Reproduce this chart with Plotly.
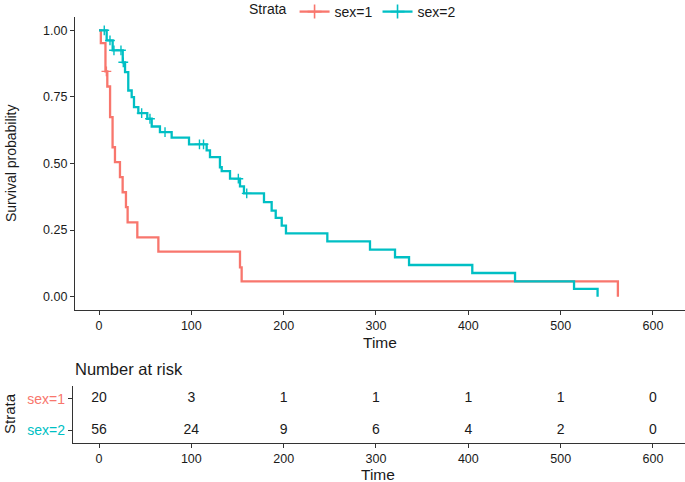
import plotly.graph_objects as go

# ---------------- data ----------------
strata = ["sex=1", "sex=2"]
colors = ["#F8766D", "#00BFC4"]

time_1 = [0, 2, 7, 9, 12, 14.7, 17.3, 22.7, 25.6, 29.2, 31, 41.5, 64.3, 152.7, 154.5, 562]
surv_1 = [1.0, 0.952, 0.846, 0.789, 0.674, 0.561, 0.505, 0.449, 0.392, 0.336, 0.279, 0.223, 0.169, 0.110, 0.0575, 0.0]
cens_t_1 = [8]
cens_s_1 = [0.846]

time_2 = [0, 8.3, 14.8, 25.7, 28.2, 31.7, 35.4, 37.9, 42.6, 52.3, 57.1, 66, 78.7, 97.5, 116.6, 120.2,
          131, 132.9, 141.9, 152.7, 157, 178.7, 187, 191.4, 197.9, 202.5, 247.3, 293.5, 320.6, 335.8,
          404.3, 450.6, 514.5, 540]
surv_2 = [1.0, 0.962, 0.925, 0.88, 0.843, 0.774, 0.749, 0.712, 0.689, 0.668, 0.639, 0.618, 0.597, 0.572,
          0.549, 0.524, 0.486, 0.471, 0.443, 0.414, 0.388, 0.355, 0.323, 0.296, 0.267, 0.238, 0.208,
          0.177, 0.148, 0.119, 0.089, 0.0575, 0.029, 0.0]
cens_t_2 = [5.7, 11.9, 16.2, 23.8, 26.3, 46.2, 55.2, 71.5, 108.8, 113.2, 150.9, 160]
cens_s_2 = [1.0, 0.962, 0.925, 0.925, 0.88, 0.689, 0.668, 0.618, 0.572, 0.572, 0.443, 0.388]

risk_times = [0, 100, 200, 300, 400, 500, 600]
risk_1 = [20, 3, 1, 1, 1, 1, 0]
risk_2 = [56, 24, 9, 6, 4, 2, 0]

y_ticks = [0.0, 0.25, 0.5, 0.75, 1.0]
y_ticklabels = ["0.00", "0.25", "0.50", "0.75", "1.00"]
x_ticks = [0, 100, 200, 300, 400, 500, 600]

# ---------------- figure ----------------
W, H = 685, 482
FONT = "Liberation Sans, Arial, Helvetica, sans-serif"
TXT = "#1a1a1a"
AX = "#333333"

def px_x(p):
    return p / W

def px_y(p):
    return 1 - p / H

fig = go.Figure()

curves = [(time_1, surv_1, cens_t_1, cens_s_1), (time_2, surv_2, cens_t_2, cens_s_2)]
for i, (t, s, ct, cs) in enumerate(curves):
    fig.add_trace(go.Scatter(x=t, y=s, mode="lines", line=dict(color=colors[i], width=2.3, shape="hv"),
                             showlegend=False, hoverinfo="skip", xaxis="x", yaxis="y"))
    fig.add_trace(go.Scatter(x=ct, y=cs, mode="markers",
                             marker=dict(symbol="cross-thin", size=7, line=dict(color=colors[i], width=1.4)),
                             showlegend=False, hoverinfo="skip", xaxis="x", yaxis="y"))
    # legend entry
    fig.add_trace(go.Scatter(x=[None], y=[None], mode="lines+markers", name=strata[i],
                             line=dict(color=colors[i], width=2.3),
                             marker=dict(symbol="cross-thin", size=10, line=dict(color=colors[i], width=1.6)),
                             xaxis="x", yaxis="y"))

# risk table
row_pos = [2, 1]
for vals, yp in zip([risk_1, risk_2], row_pos):
    fig.add_trace(go.Scatter(x=risk_times, y=[yp] * len(risk_times), mode="text",
                             text=[str(v) for v in vals],
                             textfont=dict(family=FONT, size=14, color=TXT),
                             showlegend=False, hoverinfo="skip", xaxis="x2", yaxis="y2"))

x_range = [(75 - 99) / 0.9233, (685 - 99) / 0.9233]
x2_range = [(73 - 99) / 0.9233, (685 - 99) / 0.9233]

axis_common = dict(showgrid=False, zeroline=False, showline=True, linecolor=AX, linewidth=1.3,
                   ticks="outside", ticklen=4, tickcolor=AX, tickwidth=1.1,
                   tickfont=dict(family=FONT, size=12.5, color=TXT))

def ann(text, x, y, size, angle=0, xanchor="center"):
    return dict(text=text, x=px_x(x), y=px_y(y), xref="paper", yref="paper", textangle=angle,
                xanchor=xanchor, yanchor="middle", showarrow=False,
                font=dict(family=FONT, size=size, color=TXT))

fig.update_layout(
    width=W, height=H,
    margin=dict(l=0, r=0, t=0, b=0, autoexpand=False),
    paper_bgcolor="white", plot_bgcolor="white",
    font=dict(family=FONT, color=TXT),
    xaxis=dict(domain=[px_x(75), 1.0], range=x_range, tickvals=x_ticks, anchor="y", **axis_common),
    yaxis=dict(domain=[px_y(310), px_y(17)], range=[-0.05, 1.05], tickvals=y_ticks,
               ticktext=y_ticklabels, anchor="x", **axis_common),
    xaxis2=dict(domain=[px_x(73), 1.0], range=x2_range, tickvals=x_ticks, anchor="y2", **axis_common),
    yaxis2=dict(domain=[px_y(443), px_y(386)], range=[0.6, 2.4], tickvals=row_pos,
                ticktext=['<span style="color:%s">%s</span>' % (colors[0], strata[0]),
                          '<span style="color:%s">%s</span>' % (colors[1], strata[1])],
                anchor="x2", **dict(axis_common, tickfont=dict(family=FONT, size=14, color=TXT))),
    legend=dict(orientation="h", x=px_x(247), y=px_y(-4), xanchor="left", yanchor="top",
                title=dict(text="Strata", font=dict(family=FONT, size=14, color=TXT)),
                font=dict(family=FONT, size=14, color=TXT), bgcolor="rgba(0,0,0,0)",
                itemwidth=30, tracegroupgap=0),
    annotations=[
        ann("Survival probability", 11, 163, 14, angle=-90),
        ann("Time", 380, 342, 15.5),
        ann("Number at risk", 73, 369, 16.5, xanchor="left"),
        ann("Strata", 9, 414, 15, angle=-90),
        ann("Time", 378, 474, 15.5),
    ],
)

fig.write_html("out.html", config={"displayModeBar": False},
               post_script="document.body.style.margin='0';document.body.style.overflow='hidden';")
